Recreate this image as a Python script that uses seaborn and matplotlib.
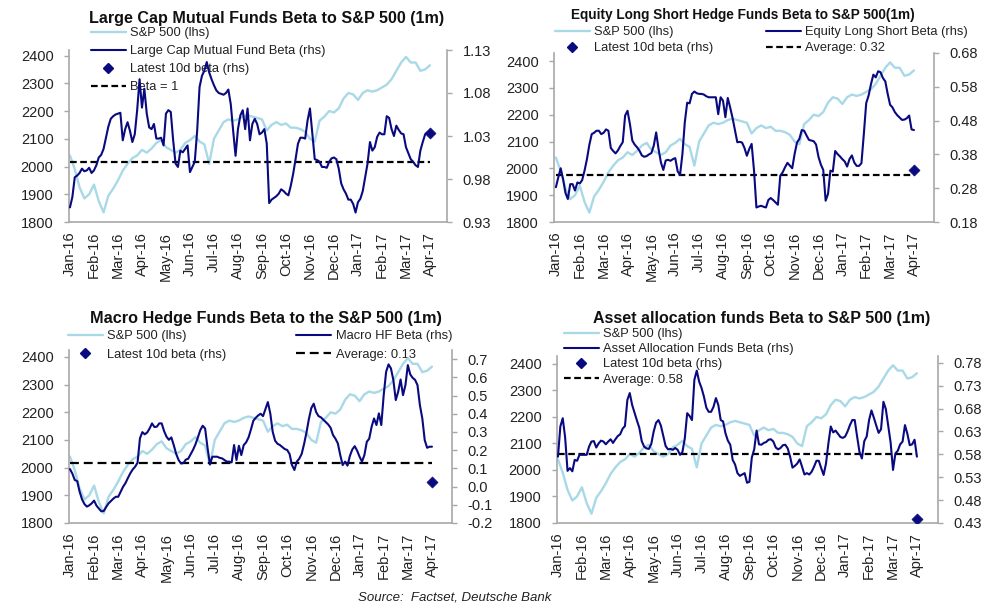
import numpy as np
import matplotlib
matplotlib.use("Agg")
import matplotlib.pyplot as plt
import seaborn as sns
from matplotlib.lines import Line2D

# ---------------- data ----------------
month_labels = ["Jan-16", "Feb-16", "Mar-16", "Apr-16", "May-16", "Jun-16", "Jul-16",
                "Aug-16", "Sep-16", "Oct-16", "Nov-16", "Dec-16", "Jan-17", "Feb-17",
                "Mar-17", "Apr-17"]
spx_step = 0.2    # months between S&P samples
beta_step = 0.1   # months between beta samples

spx = [2040, 1990, 1925, 1885, 1900, 1935, 1875, 1835, 1895, 1920,
       1950, 1985, 2010, 2030, 2040, 2060, 2050, 2065, 2085, 2095,
       2070, 2060, 2050, 2060, 2085, 2095, 2110, 2090, 2080, 2010,
       2100, 2130, 2160, 2170, 2165, 2170, 2180, 2185, 2180, 2175,
       2170, 2130, 2150, 2160, 2150, 2155, 2140, 2140, 2135, 2125,
       2100, 2090, 2165, 2180, 2200, 2195, 2210, 2245, 2265, 2260,
       2240, 2265, 2275, 2270, 2275, 2285, 2295, 2315, 2345, 2375,
       2395, 2375, 2375, 2345, 2350, 2365]

beta_largecap = [
    0.947, 0.959, 0.982, 0.984, 0.987, 0.992, 0.989, 0.990, 0.993, 0.987,
    0.990, 0.996, 1.005, 1.008, 1.015, 1.028, 1.041, 1.050, 1.053, 1.055,
    1.056, 1.057, 1.025, 1.038, 1.046, 1.036, 1.023, 1.032, 1.060, 1.096,
    1.063, 1.085, 1.056, 1.040, 1.038, 1.044, 1.027, 1.027, 1.028, 1.019,
    1.056, 1.060, 1.058, 1.025, 0.998, 0.994, 1.013, 1.011, 1.015, 1.019,
    0.988, 0.994, 1.000, 1.036, 1.087, 1.100, 1.106, 1.116, 1.104, 1.096,
    1.089, 1.083, 1.080, 1.079, 1.078, 1.080, 1.084, 1.067, 1.036, 1.007,
    1.038, 1.054, 1.060, 1.038, 1.062, 1.025, 1.044, 1.050, 1.044, 1.032,
    1.034, 1.038, 1.021, 0.952, 0.956, 0.958, 0.960, 0.963, 0.968, 0.966,
    0.963, 0.961, 0.972, 0.986, 1.003, 1.021, 1.028, 1.028, 1.027, 1.048,
    1.062, 1.032, 1.003, 1.002, 1.000, 0.994, 0.994, 0.993, 1.000, 1.004,
    1.005, 1.003, 0.992, 0.975, 0.968, 0.963, 0.956, 0.956, 0.951, 0.941,
    0.953, 0.957, 0.966, 0.982, 0.998, 1.023, 1.013, 1.017, 1.029, 1.034,
    1.032, 1.032, 1.053, 1.051, 1.038, 1.030, 1.042, 1.037, 1.033, 1.032,
    1.017, 1.010, 1.003, 1.000, 0.996, 0.994, 1.013, 1.023, 1.032, 1.034,
    1.033]

beta_els = [
    0.283, 0.312, 0.339, 0.307, 0.266, 0.248, 0.292, 0.292, 0.273, 0.297,
    0.294, 0.304, 0.332, 0.366, 0.408, 0.440, 0.444, 0.450, 0.450, 0.440,
    0.444, 0.454, 0.450, 0.399, 0.390, 0.383, 0.392, 0.405, 0.416, 0.495,
    0.509, 0.470, 0.421, 0.409, 0.401, 0.391, 0.377, 0.373, 0.375, 0.380,
    0.384, 0.406, 0.445, 0.396, 0.356, 0.334, 0.362, 0.364, 0.361, 0.366,
    0.369, 0.330, 0.319, 0.381, 0.475, 0.533, 0.531, 0.559, 0.566, 0.561,
    0.559, 0.559, 0.557, 0.552, 0.549, 0.549, 0.549, 0.549, 0.499, 0.549,
    0.539, 0.490, 0.547, 0.519, 0.488, 0.452, 0.416, 0.417, 0.415, 0.399,
    0.376, 0.396, 0.411, 0.332, 0.223, 0.226, 0.228, 0.225, 0.223, 0.245,
    0.251, 0.245, 0.238, 0.231, 0.317, 0.327, 0.342, 0.355, 0.347, 0.339,
    0.381, 0.415, 0.426, 0.452, 0.450, 0.436, 0.423, 0.421, 0.419, 0.409,
    0.373, 0.350, 0.334, 0.243, 0.263, 0.332, 0.329, 0.390, 0.381, 0.374,
    0.366, 0.359, 0.344, 0.366, 0.377, 0.356, 0.346, 0.346, 0.354, 0.440,
    0.532, 0.554, 0.588, 0.616, 0.608, 0.626, 0.623, 0.606, 0.596, 0.559,
    0.527, 0.519, 0.505, 0.496, 0.489, 0.482, 0.483, 0.487, 0.495, 0.454,
    0.452]

beta_macro = [
    0.096, 0.071, 0.036, 0.030, -0.028, -0.070, -0.096, -0.110, -0.103, -0.092,
    -0.077, -0.105, -0.121, -0.136, -0.134, -0.112, -0.092, -0.079, -0.066, -0.056,
    -0.056, -0.028, -0.001, 0.019, 0.047, 0.073, 0.094, 0.109, 0.131, 0.265,
    0.299, 0.287, 0.297, 0.319, 0.347, 0.327, 0.329, 0.347, 0.347, 0.305,
    0.274, 0.257, 0.270, 0.228, 0.180, 0.146, 0.127, 0.129, 0.148, 0.153,
    0.177, 0.202, 0.232, 0.270, 0.310, 0.334, 0.319, 0.213, 0.122, 0.164,
    0.164, 0.164, 0.158, 0.155, 0.146, 0.137, 0.137, 0.133, 0.228, 0.146,
    0.224, 0.173, 0.228, 0.243, 0.270, 0.314, 0.362, 0.378, 0.391, 0.400,
    0.387, 0.426, 0.464, 0.402, 0.301, 0.252, 0.235, 0.228, 0.217, 0.206,
    0.201, 0.179, 0.118, 0.091, 0.137, 0.153, 0.179, 0.233, 0.297, 0.371,
    0.431, 0.455, 0.409, 0.387, 0.380, 0.367, 0.354, 0.341, 0.323, 0.283,
    0.263, 0.237, 0.173, 0.118, 0.137, 0.115, 0.169, 0.204, 0.222, 0.197,
    0.164, 0.137, 0.173, 0.246, 0.263, 0.329, 0.374, 0.338, 0.402, 0.338,
    0.502, 0.630, 0.671, 0.649, 0.585, 0.475, 0.521, 0.588, 0.502, 0.557,
    0.667, 0.616, 0.597, 0.586, 0.557, 0.447, 0.374, 0.255, 0.213, 0.219,
    0.219]

beta_asset = [
    0.575, 0.641, 0.659, 0.617, 0.544, 0.550, 0.543, 0.568, 0.566, 0.579,
    0.579, 0.579, 0.579, 0.597, 0.608, 0.609, 0.595, 0.604, 0.610, 0.608,
    0.602, 0.608, 0.613, 0.605, 0.613, 0.620, 0.624, 0.636, 0.642, 0.699,
    0.714, 0.688, 0.671, 0.654, 0.638, 0.609, 0.597, 0.593, 0.592, 0.603,
    0.630, 0.649, 0.655, 0.643, 0.621, 0.598, 0.591, 0.592, 0.590, 0.594,
    0.590, 0.579, 0.585, 0.615, 0.670, 0.664, 0.655, 0.743, 0.763, 0.739,
    0.725, 0.706, 0.682, 0.673, 0.673, 0.684, 0.703, 0.688, 0.655, 0.652,
    0.626, 0.610, 0.601, 0.568, 0.558, 0.539, 0.533, 0.536, 0.539, 0.518,
    0.520, 0.573, 0.591, 0.632, 0.602, 0.601, 0.605, 0.607, 0.612, 0.613,
    0.608, 0.595, 0.591, 0.594, 0.600, 0.601, 0.593, 0.575, 0.551, 0.555,
    0.560, 0.569, 0.553, 0.536, 0.539, 0.536, 0.542, 0.553, 0.566, 0.566,
    0.550, 0.535, 0.560, 0.604, 0.641, 0.628, 0.632, 0.625, 0.618, 0.616,
    0.619, 0.630, 0.644, 0.655, 0.655, 0.619, 0.585, 0.571, 0.609, 0.619,
    0.655, 0.676, 0.660, 0.643, 0.627, 0.635, 0.695, 0.679, 0.642, 0.606,
    0.546, 0.582, 0.588, 0.602, 0.608, 0.644, 0.625, 0.600, 0.602, 0.612,
    0.575]

latest_largecap, latest_els, latest_macro, latest_asset = 1.033, 0.335, 0.027, 0.439
ref_largecap, ref_els, ref_macro, ref_asset = 1.00, 0.32, 0.13, 0.58

# ---------------- style ----------------
sns.set_theme(style="white")
plt.rcParams["font.family"] = ["Liberation Sans", "DejaVu Sans"]
LIGHT = "#a9d9e6"
NAVY = "#0a0a80"
SPINE = "#a8a8a8"
TXT = "#222222"
W, H = 992, 609
LEG_FS = 9.25

fig = plt.figure(figsize=(W / 100, H / 100), dpi=100)
months_spx = np.arange(len(spx)) * spx_step

panels = [
    dict(box=(69, 50, 447, 222), xlim=(-0.04, 15.71), yl=(1800, 2420), yr=(0.93, 1.13),
         rticks=[0.93, 0.98, 1.03, 1.08, 1.13], rfmt="{:.2f}",
         beta=beta_largecap, latest=latest_largecap, ref=ref_largecap, dash=(0, (3, 1.6)),
         title="Large Cap Mutual Funds Beta to S&P 500 (1m)", txy=(267, 18), tfs=11.6,
         labels=["S&P 500 (lhs)", "Large Cap Mutual Fund Beta (rhs)", "Latest 10d beta (rhs)", "Beta = 1"],
         order=[0, 1, 2, 3], ncol=1, lxy=(91, 27), lsp=0.48, csp=2),
    dict(box=(554, 53, 934, 222), xlim=(-0.08, 15.84), yl=(1800, 2430), yr=(0.18, 0.68),
         rticks=[0.18, 0.28, 0.38, 0.48, 0.58, 0.68], rfmt="{:.2f}",
         beta=beta_els, latest=latest_els, ref=ref_els, dash=(0, (3, 1.6)),
         title="Equity Long Short Hedge Funds Beta to S&P 500(1m)", txy=(743, 15), tfs=9.8,
         labels=["S&P 500 (lhs)", "Equity Long Short Beta (rhs)", "Latest 10d beta (rhs)", "Average: 0.32"],
         order=[0, 2, 1, 3], ncol=2, lxy=(555, 26), lsp=0.33, csp=4.1),
    dict(box=(69, 350, 452, 523), xlim=(-0.04, 15.83), yl=(1800, 2425), yr=(-0.2, 0.75),
         rticks=[-0.2, -0.1, 0.0, 0.1, 0.2, 0.3, 0.4, 0.5, 0.6, 0.7], rfmt="{:.1f}",
         beta=beta_macro, latest=latest_macro, ref=ref_macro, dash=(0, (4, 2.2)),
         title="Macro Hedge Funds Beta to the S&P 500 (1m)", txy=(266, 318), tfs=11.7,
         labels=["S&P 500 (lhs)", "Macro HF Beta (rhs)", "Latest 10d beta (rhs)", "Average: 0.13"],
         order=[0, 2, 1, 3], ncol=2, lxy=(68, 330), lsp=0.54, csp=5.45),
    dict(box=(557, 356, 938, 523), xlim=(-0.04, 15.88), yl=(1800, 2430), yr=(0.43, 0.795),
         rticks=[0.43, 0.48, 0.53, 0.58, 0.63, 0.68, 0.73, 0.78], rfmt="{:.2f}",
         beta=beta_asset, latest=latest_asset, ref=ref_asset, dash=(0, (3, 1.6)),
         title="Asset allocation funds Beta to S&P 500 (1m)", txy=(762, 318), tfs=11.5,
         labels=["S&P 500 (lhs)", "Asset Allocation Funds Beta (rhs)", "Latest 10d beta (rhs)", "Average: 0.58"],
         order=[0, 1, 2, 3], ncol=1, lxy=(564, 328), lsp=0.25, csp=2),
]

for p in panels:
    l, t, r, b = p["box"]
    months_beta = np.arange(len(p["beta"])) * beta_step
    ax = fig.add_axes([l / W, 1 - b / H, (r - l) / W, (b - t) / H])
    ax2 = ax.twinx()
    ax.patch.set_visible(False)
    ax2.patch.set_visible(False)

    sns.lineplot(x=months_spx, y=spx, ax=ax, color=LIGHT, lw=1.7)
    sns.lineplot(x=months_beta, y=p["beta"], ax=ax2, color=NAVY, lw=1.5, zorder=3)
    ax2.hlines(p["ref"], months_beta[0], months_beta[-1], colors="black",
               linestyles=p["dash"], lw=1.6, zorder=2)
    sns.scatterplot(x=[months_beta[-1]], y=[p["latest"]], ax=ax2, marker="D", s=32,
                    color=NAVY, edgecolor=NAVY, zorder=4)

    ax.set_xlim(*p["xlim"])
    ax.set_ylim(*p["yl"])
    ax2.set_ylim(*p["yr"])
    ax.set_yticks(range(1800, 2401, 100))
    ax.set_yticklabels([str(v) for v in range(1800, 2401, 100)])
    ax2.set_yticks(p["rticks"])
    ax2.set_yticklabels([p["rfmt"].format(v) for v in p["rticks"]])
    ax.set_xticks(range(len(month_labels)))
    ax.set_xticklabels(month_labels, rotation=90)
    for a in (ax, ax2):
        a.set_xlabel("")
        a.set_ylabel("")
    ax.tick_params(axis="y", left=True, length=3.6, width=1, color=SPINE, labelsize=10.5,
                   labelcolor=TXT, pad=7.5)
    ax2.tick_params(axis="y", right=True, length=3.6, width=1, color=SPINE, labelsize=10.5,
                    labelcolor=TXT, pad=7.5)
    ax.tick_params(axis="x", bottom=False, length=0, labelsize=10.5, labelcolor=TXT, pad=7)
    for s in ("top", "right"):
        ax.spines[s].set_visible(False)
    for s in ("top", "left", "bottom"):
        ax2.spines[s].set_visible(False)
    for s in ("left", "bottom"):
        ax.spines[s].set_color(SPINE)
        ax.spines[s].set_linewidth(1.2)
    ax2.spines["right"].set_color(SPINE)
    ax2.spines["right"].set_linewidth(1.2)

    fig.text(p["txy"][0] / W, 1 - p["txy"][1] / H, p["title"], ha="center", va="center",
             fontsize=p["tfs"], fontweight="bold", color="#111111")

    handles = [Line2D([], [], color=LIGHT, lw=1.7),
               Line2D([], [], color=NAVY, lw=1.5),
               Line2D([], [], color=NAVY, marker="D", ls="", markersize=5),
               Line2D([], [], color="black", lw=1.6, ls=p["dash"])]
    hs = [handles[i] for i in p["order"]]
    ls = [p["labels"][i] for i in p["order"]]
    leg = fig.legend(hs, ls, loc="upper left", bbox_to_anchor=(p["lxy"][0] / W, 1 - p["lxy"][1] / H),
                     ncol=p["ncol"], frameon=False, fontsize=LEG_FS, handlelength=2.7,
                     handletextpad=0.35, labelspacing=p["lsp"], columnspacing=p["csp"],
                     borderpad=0, borderaxespad=0, labelcolor=TXT)
    leg.set_zorder(-1)

fig.text(455 / W, 1 - 598 / H, "Source:  Factset, Deutsche Bank", ha="center", va="center",
         fontsize=9.5, style="italic", color=TXT)

fig.savefig("out.png", dpi=100)
